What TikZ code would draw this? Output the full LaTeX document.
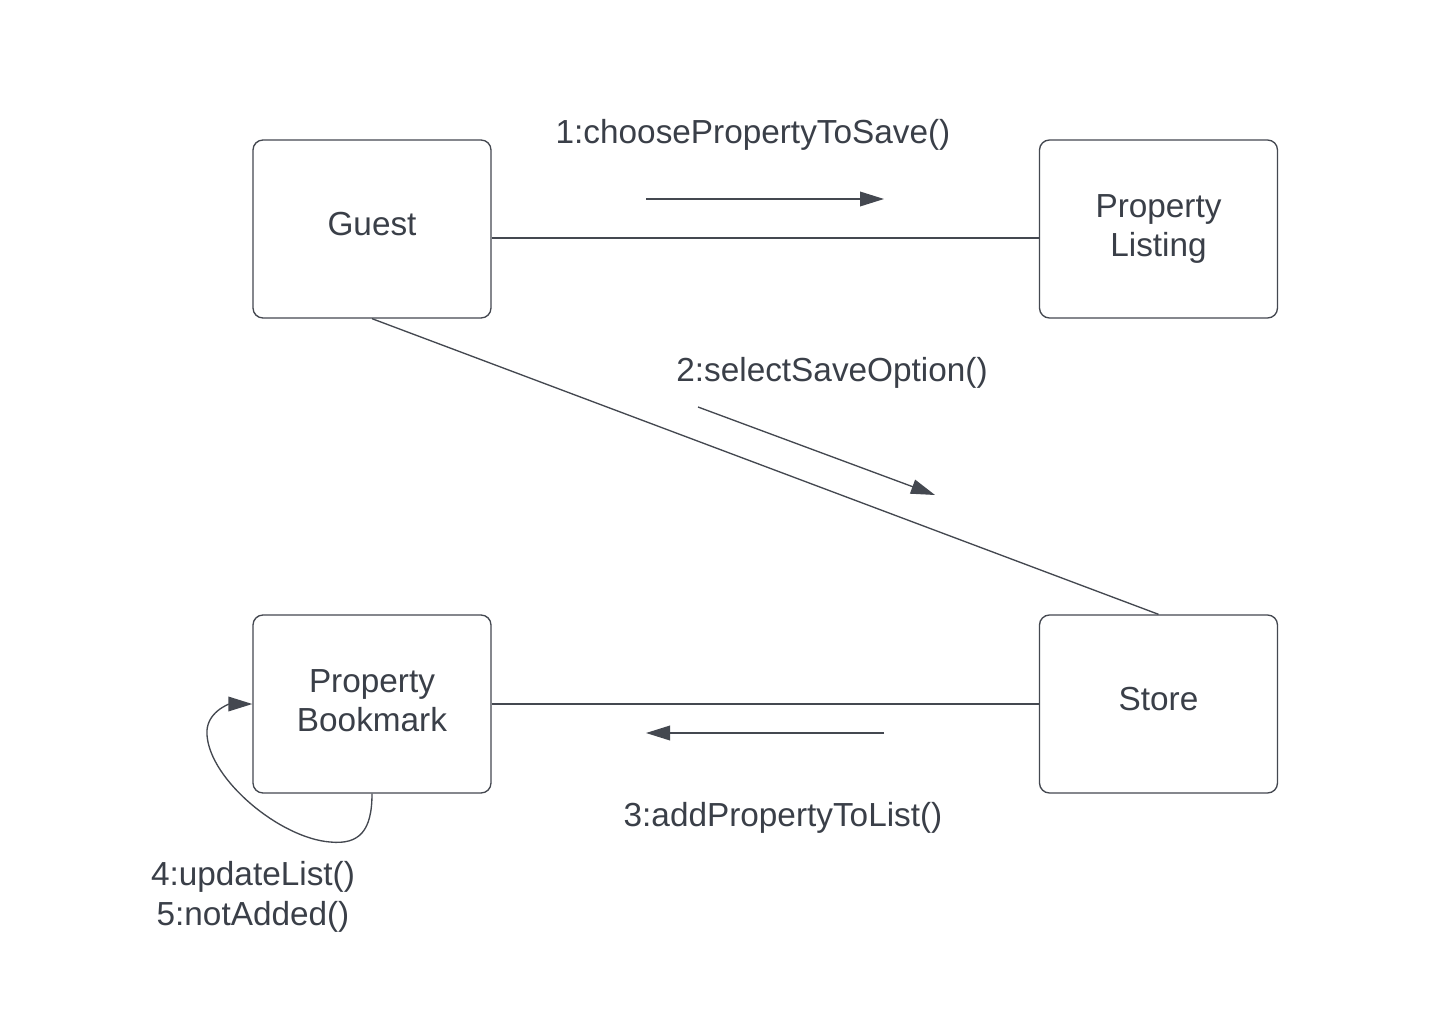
\documentclass[tikz,border=0pt]{standalone}
\usepackage{fontspec}
\setmainfont{Liberation Sans}
\usetikzlibrary{arrows.meta}
\definecolor{ink}{RGB}{58,63,72}
\definecolor{edge}{RGB}{68,72,80}
\newcommand{\lift}[2]{\raisebox{#1}[\height][\depth]{#2}}
\begin{document}
\begin{tikzpicture}[x=0.75pt,y=-0.75pt,
  obj/.style={draw=edge,line width=1pt,rounded corners=7.5pt,minimum width=178.5pt,minimum height=133.5pt,
    text=ink,font=\fontsize{25}{29.5}\selectfont,align=center,inner sep=0pt},
  lbl/.style={text=ink,font=\fontsize{25}{29.5}\selectfont,align=center,inner sep=0pt},
  conn/.style={draw=edge,line width=1pt},
  msg/.style={draw=edge,line width=1pt,-{Triangle[length=18pt,width=11pt]}}]
\useasboundingbox (0,0) rectangle (1455,1016);
\fill[white] (0,0) rectangle (1455,1016);
\node[obj] (guest) at (372,229) {\lift{3.75pt}{Guest}};
\node[obj] (pl) at (1158.5,229) {Property\\Listing};
\node[obj] (bm) at (372,704) {\lift{2.5pt}{Property}\\\lift{2.5pt}{Bookmark}};
\node[obj] (store) at (1158.5,704) {\lift{3.75pt}{Store}};
\draw[conn] ([yshift=-6.75pt]guest.east) -- ([yshift=-6.75pt]pl.west);
\draw[conn] (guest.south) -- (store.north);
\draw[conn] (bm.east) -- (store.west);
\coordinate (a1s) at (646,199); \coordinate (a1e) at (884,199);
\coordinate (a2s) at (698,407); \coordinate (a2e) at (935,495);
\coordinate (a3s) at (884,733); \coordinate (a3e) at (646,733);
\draw[msg] (a1s) -- (a1e);
\draw[msg] (a2s) -- (a2e);
\draw[msg] (a3s) -- (a3e);
\draw[msg] (bm.south) .. controls (372,830) and (360,845) .. (330,842)
  .. controls (280,838) and (210,780) .. (207,735)
  .. controls (205,712) and (230,704) .. (bm.west);
\node[lbl] (l1) at (753,135) {1:choosePropertyToSave()};
\node[lbl] (l2) at (832,373) {2:selectSaveOption()};
\node[lbl] (l3) at (783,818) {3:addPropertyToList()};
\node[lbl] (l4) at (253,897) {4:updateList()\\5:notAdded()};
\end{tikzpicture}
\end{document}
